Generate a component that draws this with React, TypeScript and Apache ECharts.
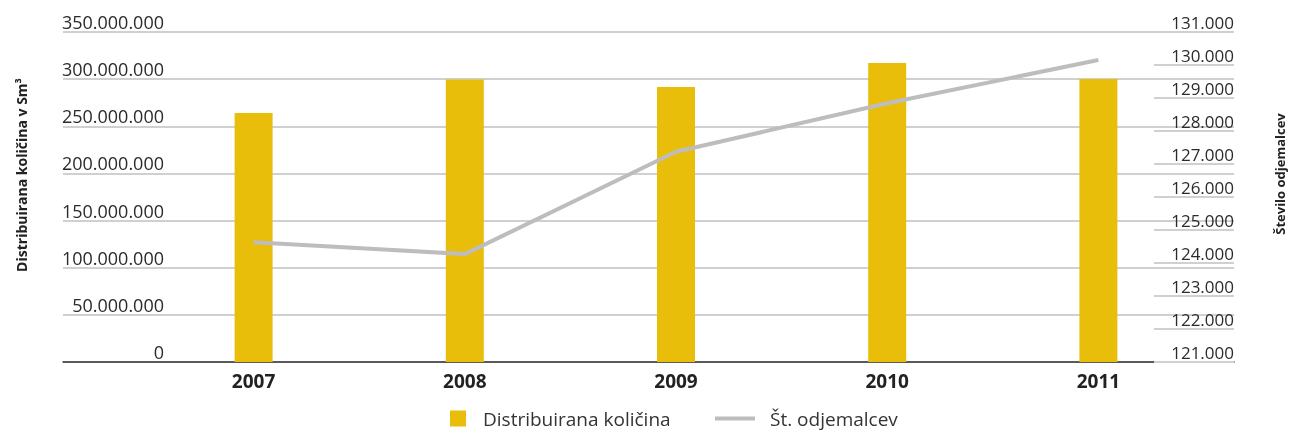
import React, { useEffect, useRef } from "react";
import * as echarts from "echarts";

const years = ["2007", "2008", "2009", "2010", "2011"];
const quantity = [264000000, 299500000, 291700000, 317000000, 300200000];
const customers = [124630, 124270, 127370, 128840, 130150];

const barName = "Distribuirana količina";
const lineName = "Št. odjemalcev";
const leftAxisTitle = "Distribuirana količina v Sm³";
const rightAxisTitle = "Število odjemalcev";

const FONT = "'Open Sans', 'Noto Sans', sans-serif";
const GRID_COLOR = "#d0d0d0";
const BAR_COLOR = "#e8be0a";
const LINE_COLOR = "#bdbdc0";

const fmt = (v: number) => String(Math.round(v)).replace(/\B(?=(\d{3})+(?!\d))/g, ".");

export default function App() {
  const ref = useRef<HTMLDivElement>(null);
  useEffect(() => {
    if (!ref.current) return;
    const chart = echarts.init(ref.current, undefined, { renderer: "svg" });
    const grid0 = { left: 63, right: 56, top: 32, bottom: 68 };
    const grid1 = { left: 148, right: 86, top: 32, bottom: 68 };
    chart.setOption({
      animation: false,
      textStyle: { fontFamily: FONT },
      grid: [grid0, grid1],
      xAxis: [
        {
          gridIndex: 0,
          type: "category",
          data: years,
          axisLine: { show: true, lineStyle: { color: "#333", width: 1.5 } },
          axisTick: { show: false },
          axisLabel: { show: false },
          splitLine: { show: false },
        },
        {
          gridIndex: 1,
          type: "category",
          data: years,
          axisLine: { show: false },
          axisTick: { show: false },
          axisLabel: {
            margin: 9,
            fontSize: 19,
            fontWeight: "bold",
            color: "#222",
            fontFamily: FONT,
          },
        },
      ],
      yAxis: [
        {
          gridIndex: 0,
          type: "value",
          position: "left",
          min: 0,
          max: 350000000,
          interval: 50000000,
          axisLine: { show: false },
          axisTick: { show: false },
          splitLine: { show: true, lineStyle: { color: GRID_COLOR, width: 2 } },
          axisLabel: {
            inside: true,
            margin: 101,
            align: "right",
            verticalAlign: "bottom",
            padding: [0, 0, 1, 0],
            fontSize: 18,
            color: "#2b2b2b",
            fontFamily: FONT,
            formatter: (v: number) => fmt(v),
          },
        },
        {
          gridIndex: 0,
          type: "value",
          position: "right",
          min: 121000,
          max: 131000,
          interval: 1000,
          axisLine: { show: false },
          axisTick: { show: true, inside: true, length: 80, lineStyle: { color: GRID_COLOR, width: 2 } },
          splitLine: { show: false },
          axisLabel: {
            inside: true,
            margin: 0,
            align: "right",
            verticalAlign: "bottom",
            padding: [0, 0, 1, 0],
            fontSize: 17,
            color: "#2b2b2b",
            fontFamily: FONT,
            formatter: (v: number) => fmt(v),
          },
        },
        {
          gridIndex: 1,
          type: "value",
          min: 0,
          max: 350000000,
          interval: 50000000,
          show: false,
        },
        {
          gridIndex: 1,
          type: "value",
          min: 121000,
          max: 131000,
          interval: 1000,
          show: false,
        },
      ],
      legend: [
        {
          data: [barName],
          left: 450,
          top: 409,
          padding: 0,
          icon: "rect",
          itemWidth: 16,
          itemHeight: 16,
          textStyle: { fontSize: 19, color: "#333", fontFamily: FONT, padding: [0, 0, 0, 12] },
        },
        {
          data: [lineName],
          left: 715,
          top: 409,
          padding: 0,
          icon: "rect",
          itemWidth: 40,
          itemHeight: 4,
          textStyle: { fontSize: 19, color: "#333", fontFamily: FONT, padding: [0, 0, 0, 10] },
        },
      ],
      graphic: [
        {
          type: "text",
          x: 21,
          y: 175,
          rotation: Math.PI / 2,
          style: {
            text: leftAxisTitle,
            align: "center",
            verticalAlign: "middle",
            fontSize: 14,
            fontWeight: "bold",
            fill: "#222",
            fontFamily: FONT,
          },
        },
        {
          type: "text",
          x: 1280,
          y: 174,
          rotation: Math.PI / 2,
          style: {
            text: rightAxisTitle,
            align: "center",
            verticalAlign: "middle",
            fontSize: 13,
            fontWeight: "bold",
            fill: "#222",
            fontFamily: FONT,
          },
        },
      ],
      series: [
        {
          name: barName,
          type: "bar",
          xAxisIndex: 1,
          yAxisIndex: 2,
          data: quantity,
          barWidth: 38,
          itemStyle: { color: BAR_COLOR },
          z: 2,
        },
        {
          name: lineName,
          type: "line",
          xAxisIndex: 1,
          yAxisIndex: 3,
          data: customers,
          symbol: "none",
          lineStyle: { color: LINE_COLOR, width: 4 },
          itemStyle: { color: LINE_COLOR },
          z: 3,
        },
      ],
    });
    return () => chart.dispose();
  }, []);
  return (
    <div
      ref={ref}
      style={{ position: "fixed", left: 0, top: 0, width: 1290, height: 430 }}
    />
  );
}
